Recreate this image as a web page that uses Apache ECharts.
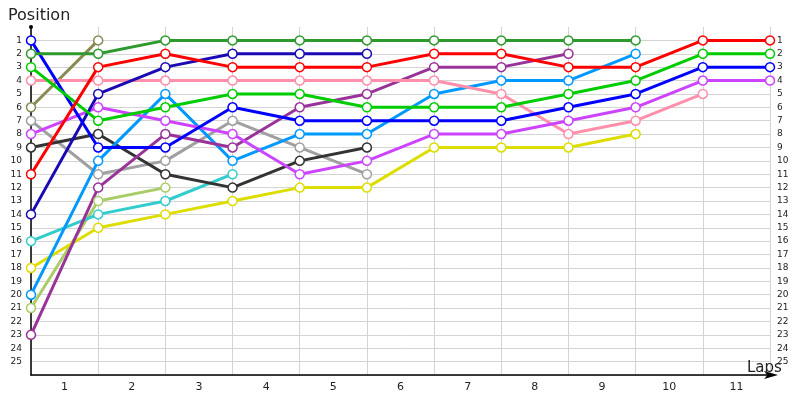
<!DOCTYPE html>
<html>
<head>
<meta charset="utf-8">
<script src="https://cdn.jsdelivr.net/npm/echarts@6/dist/echarts.min.js"></script>
<style>
  html, body { margin: 0; background: #fff; }
  #chart { width: 800px; height: 400px; }
</style>
</head>
<body>
<div id="chart"></div>
<script>
// lap labels sit between the lap boundaries
const lapLabels = ['1', '2', '3', '4', '5', '6', '7', '8', '9', '10', '11'];

// positions per lap boundary (index 0 = start)
const blue       = [1, 9, 9, 6, 7, 7, 7, 7, 6, 5, 3, 3];
const darkGreen  = [2, 2, 1, 1, 1, 1, 1, 1, 1, 1];
const green      = [3, 7, 6, 5, 5, 6, 6, 6, 5, 4, 2, 2];
const pink       = [4, 4, 4, 4, 4, 4, 4, 5, 8, 7, 5];
const olive      = [6, 1];
const gray       = [7, 11, 10, 7, 9, 11];
const magenta    = [8, 6, 7, 8, 11, 10, 8, 8, 7, 6, 4, 4];
const darkGray   = [9, 8, 11, 12, 10, 9];
const red        = [11, 3, 2, 3, 3, 3, 2, 2, 3, 3, 1, 1];
const navy       = [14, 5, 3, 2, 2, 2];
const cyan       = [16, 14, 13, 11];
const yellow     = [18, 15, 14, 13, 12, 12, 9, 9, 9, 8];
const lightBlue  = [20, 10, 5, 10, 8, 8, 5, 4, 4, 2];
const lightGreen = [21, 13, 12];
const purple     = [23, 12, 8, 9, 6, 5, 3, 3, 2];

const drivers = [
  { data: lightGreen, color: '#a8cc66' },
  { data: cyan,       color: '#33cccc' },
  { data: gray,       color: '#a0a0a0' },
  { data: darkGray,   color: '#333333' },
  { data: olive,      color: '#8a8a55' },
  { data: yellow,     color: '#dddd00' },
  { data: lightBlue,  color: '#0099ff' },
  { data: purple,     color: '#993399' },
  { data: pink,       color: '#ff8fab' },
  { data: magenta,    color: '#cc44ff' },
  { data: navy,       color: '#1a0ab4' },
  { data: blue,       color: '#0000ff' },
  { data: green,      color: '#00cc00' },
  { data: darkGreen,  color: '#2e9a2e' },
  { data: red,        color: '#ff0000' }
];

const yLabel = v => (v >= 1 && v <= 25) ? String(v) : '';
// no grid line at position 0 (top edge)
const hLineColors = ['rgba(0,0,0,0)'].concat(new Array(26).fill('#d4d4d4'));

let myChart = echarts.init(document.getElementById('chart'));
myChart.setOption({
  animation: false,
  textStyle: { fontFamily: 'DejaVu Sans' },
  title: [
    { text: 'Position', left: 3, top: 3, textStyle: { fontSize: 16, fontWeight: 'normal', color: '#222', fontFamily: 'DejaVu Sans' } },
    { text: 'Laps', left: 742, top: 356, textStyle: { fontSize: 15, fontWeight: 'normal', color: '#222', fontFamily: 'DejaVu Sans' } }
  ],
  grid: { left: 31, right: 30, top: 27, bottom: 25, containLabel: false },
  xAxis: [
    {
      type: 'value', min: 0, max: 11, interval: 1, position: 'bottom',
      axisLine: { onZero: false, lineStyle: { color: '#000', width: 1.5 }, symbol: ['none', 'arrow'], symbolSize: [6, 14], symbolOffset: [0, 8] },
      axisTick: { show: false },
      axisLabel: { show: false },
      splitLine: { show: true, lineStyle: { color: '#d4d4d4' } }
    },
    {
      type: 'category', data: lapLabels, boundaryGap: true, position: 'bottom',
      axisLine: { show: false, onZero: false }, axisTick: { show: false }, splitLine: { show: false },
      axisLabel: { color: '#222', fontSize: 11, margin: 7, fontFamily: 'DejaVu Sans' }
    }
  ],
  yAxis: [
    {
      type: 'value', inverse: true, min: 0, max: 26, interval: 1, position: 'left',
      axisLine: { show: true, onZero: false, lineStyle: { color: '#000', width: 1.5 }, symbol: ['none', 'circle'], symbolSize: [4, 4] },
      axisTick: { show: false },
      axisLabel: { formatter: yLabel, color: '#222', fontSize: 9, margin: 9, fontFamily: 'DejaVu Sans' },
      splitLine: { show: true, lineStyle: { color: hLineColors } }
    },
    {
      type: 'value', inverse: true, min: 0, max: 26, interval: 1, position: 'right',
      axisLine: { show: false }, axisTick: { show: false }, splitLine: { show: false },
      axisLabel: { formatter: yLabel, color: '#222', fontSize: 9, margin: 7, fontFamily: 'DejaVu Sans' }
    }
  ],
  series: drivers.map(d => ({
    type: 'line',
    xAxisIndex: 0,
    yAxisIndex: 0,
    data: d.data.map((p, i) => [i, p]),
    symbol: 'circle',
    symbolSize: 9,
    showSymbol: true,
    lineStyle: { color: d.color, width: 3 },
    itemStyle: { color: '#fff', borderColor: d.color, borderWidth: 1.5 },
    emphasis: { disabled: true }
  }))
});
</script>
</body>
</html>
